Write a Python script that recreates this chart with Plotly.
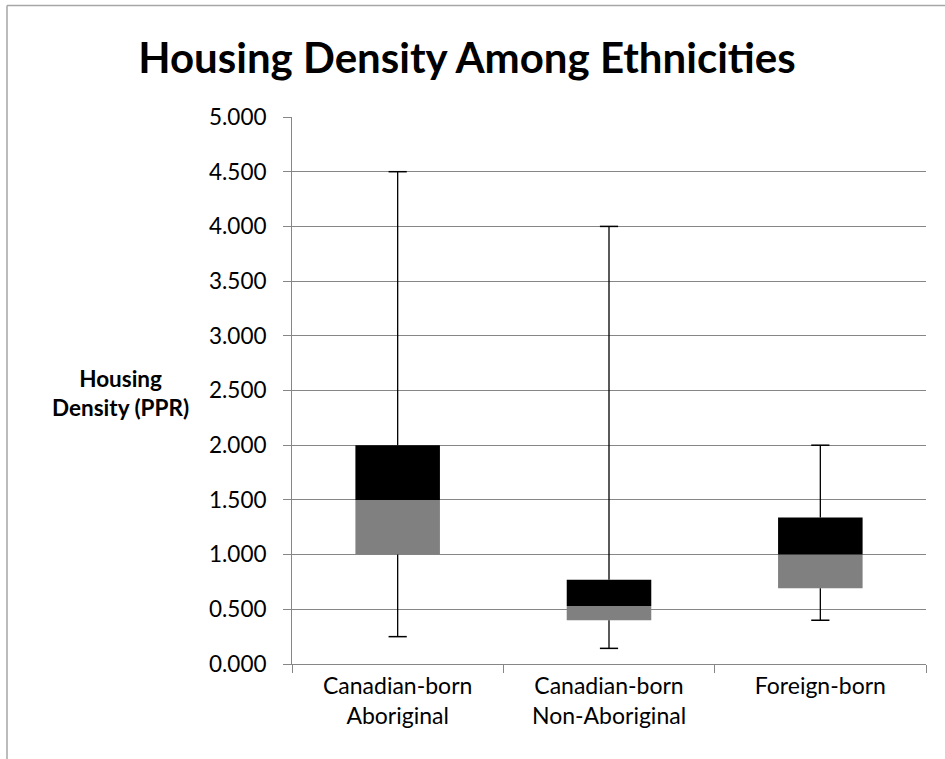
import plotly.graph_objects as go

# Housing density (persons per room) summary per group
categories = ["Canadian-born<br>Aboriginal", "Canadian-born<br>Non-Aboriginal", "Foreign-born"]
minimum = [0.25, 0.143, 0.40]
q1 = [1.00, 0.40, 0.692]
median = [1.50, 0.531, 1.00]
q3 = [2.00, 0.771, 1.338]
maximum = [4.50, 4.00, 2.00]
y_ticks = [0, 0.5, 1, 1.5, 2, 2.5, 3, 3.5, 4, 4.5, 5]

FONT = "Lato"

lower_box = [m - a for m, a in zip(median, q1)]
upper_box = [b - m for b, m in zip(q3, median)]

fig = go.Figure()

# Box: Q1 -> median (grey), median -> Q3 (black)
fig.add_trace(go.Bar(x=categories, y=lower_box, base=q1,
                     marker=dict(color="#808080", line=dict(width=0)),
                     hoverinfo="skip", showlegend=False))
fig.add_trace(go.Bar(x=categories, y=upper_box, base=median,
                     marker=dict(color="#000000", line=dict(width=0)),
                     hoverinfo="skip", showlegend=False))

# Whisker stems: Q3 -> max and Q1 -> min
stem_x, stem_y = [], []
for c, a, b, mn, mx in zip(categories, q1, q3, minimum, maximum):
    stem_x += [c, c, None, c, c, None]
    stem_y += [b, mx, None, a, mn, None]
fig.add_trace(go.Scatter(x=stem_x, y=stem_y, mode="lines",
                         line=dict(color="#000000", width=1.3),
                         hoverinfo="skip", showlegend=False))

# Whisker caps at min and max
fig.add_trace(go.Scatter(x=categories + categories, y=maximum + minimum,
                         mode="markers",
                         marker=dict(symbol="line-ew", size=13,
                                     line=dict(color="#000000", width=1.5)),
                         hoverinfo="skip", showlegend=False))

fig.update_layout(
    width=945, height=759,
    margin=dict(l=292, r=19, t=117, b=95),
    paper_bgcolor="white", plot_bgcolor="white",
    barmode="overlay", bargap=0.6,
    font=dict(family=FONT, color="#000000"),
    title=dict(text="<b>Housing Density Among Ethnicities</b>",
               x=467 / 945, xref="container", xanchor="center",
               y=1 - 58 / 759, yref="container", yanchor="middle",
               font=dict(family=FONT, size=42, color="#000000")),
    xaxis=dict(showgrid=False, showline=True, linecolor="#868686", linewidth=1,
               ticks="outside", tickson="boundaries", ticklen=8, tickcolor="#868686",
               tickfont=dict(family=FONT, size=23, color="#000000"),
               ticklabelstandoff=1,
               fixedrange=True),
    yaxis=dict(range=[0, 5], tickvals=y_ticks,
               ticktext=[f"{v:.3f}" for v in y_ticks],
               showgrid=True, gridcolor="#868686", gridwidth=1,
               showline=True, linecolor="#868686", linewidth=1,
               ticks="outside", ticklen=8, tickcolor="#868686",
               tickfont=dict(family=FONT, size=22.5, color="#000000"),
               ticklabelstandoff=12,
               zeroline=False, fixedrange=True),
    annotations=[dict(text="<b>Housing<br>Density (PPR)</b>",
                      xref="paper", yref="paper",
                      x=-172 / 634, y=(664 - 393) / 547,
                      xanchor="center", yanchor="middle", showarrow=False,
                      align="center",
                      font=dict(family=FONT, size=22.5, color="#000000"))],
    shapes=[
        dict(type="line", xref="paper", yref="paper",
             x0=-285 / 634, x1=1.1, y0=(664 - 5.5) / 547, y1=(664 - 5.5) / 547,
             line=dict(color="#A6A6A6", width=1.5)),
        dict(type="line", xref="paper", yref="paper",
             x0=-285 / 634, x1=-285 / 634, y0=(664 - 5.5) / 547, y1=-0.3,
             line=dict(color="#A6A6A6", width=1.5)),
    ],
)

fig.write_html("out.html")
